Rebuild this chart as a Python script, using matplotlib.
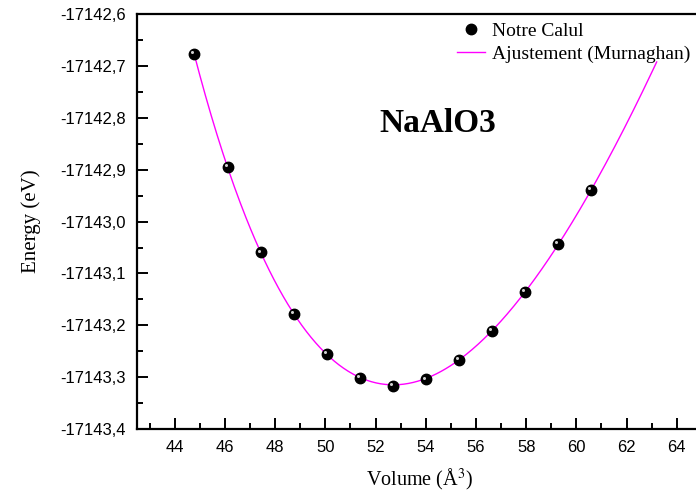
import numpy as np
import matplotlib.pyplot as plt
import matplotlib.ticker as ticker
from matplotlib.transforms import offset_copy

plt.rcParams['mathtext.fontset'] = 'stix'

# calculated volumes (A^3) and total energies (eV)
volume = [44.76, 46.11, 47.43, 48.74, 50.06, 51.37, 52.69,
          54.00, 55.31, 56.63, 57.94, 59.26, 60.57]
energy = [-17142.676, -17142.894, -17143.059, -17143.178, -17143.255,
          -17143.302, -17143.317, -17143.304, -17143.267, -17143.211,
          -17143.136, -17143.043, -17142.939]

# Murnaghan fit parameters
E0 = -17143.31491   # eV
V0 = 52.71          # A^3
B0 = 0.804121       # eV/A^3
Bp = 4.08
fit_range = (44.76, 63.2)


def murnaghan(v):
    return E0 + B0 * v / Bp * ((V0 / v) ** Bp / (Bp - 1) + 1) - B0 * V0 / (Bp - 1)


vfit = np.linspace(fit_range[0], fit_range[1], 400)
efit = murnaghan(vfit)

fig = plt.figure(figsize=(6.96, 4.97), dpi=100)
ax = fig.add_axes([0.197, 0.137, 0.8114, 0.834])

ax.plot(volume, energy, 'o', color='black', ms=7.5, label='Notre Calul', zorder=3)
ax.plot(vfit, efit, color='#ff00ff', lw=1.0, label='Ajustement (Murnaghan)', zorder=2)
# small highlight on each ball
hl = offset_copy(ax.transData, fig=fig, x=-1.2, y=1.2, units='points')
ax.plot(volume, energy, 'o', color='#d0d0d0', ms=2.2, mec='none', transform=hl, zorder=4)

ax.set_xlim(42.5, 65)
ax.set_ylim(-17143.4, -17142.6)
ax.xaxis.set_major_locator(ticker.MultipleLocator(2))
ax.xaxis.set_minor_locator(ticker.MultipleLocator(1))
ax.yaxis.set_major_locator(ticker.MultipleLocator(0.1))
ax.yaxis.set_minor_locator(ticker.MultipleLocator(0.05))
ax.yaxis.set_major_formatter(ticker.FuncFormatter(lambda y, p: ('%.1f' % y).replace('.', ',')))
ax.xaxis.set_major_formatter(ticker.FuncFormatter(lambda x, p: '%d' % x))

ax.spines['right'].set_visible(False)
for s in ['left', 'bottom', 'top']:
    ax.spines[s].set_linewidth(1.6)
ax.tick_params(which='both', direction='in', top=False, right=False, width=1.4,
               labelsize=12, labelfontfamily='Liberation Sans')
ax.tick_params(which='major', length=8, pad=8)
ax.tick_params(which='minor', length=4.5)

ax.set_xlabel('Volume (Å$^{3}$)', family='Liberation Serif', fontsize=14.5, labelpad=8)
ax.set_ylabel('Energy (eV)', family='Liberation Serif', fontsize=15, labelpad=14)

ax.text(0.532, 0.737, 'NaAlO3', transform=ax.transAxes, family='Liberation Serif',
        fontsize=24, fontweight='bold', ha='center', va='center')

ax.legend(loc='upper left', bbox_to_anchor=(0.553, 1.0), frameon=False,
          prop={'family': 'Liberation Serif', 'size': 14},
          handlelength=1.45, handletextpad=0.35, labelspacing=0.3,
          borderaxespad=0)

fig.savefig('out.png', dpi=100)
